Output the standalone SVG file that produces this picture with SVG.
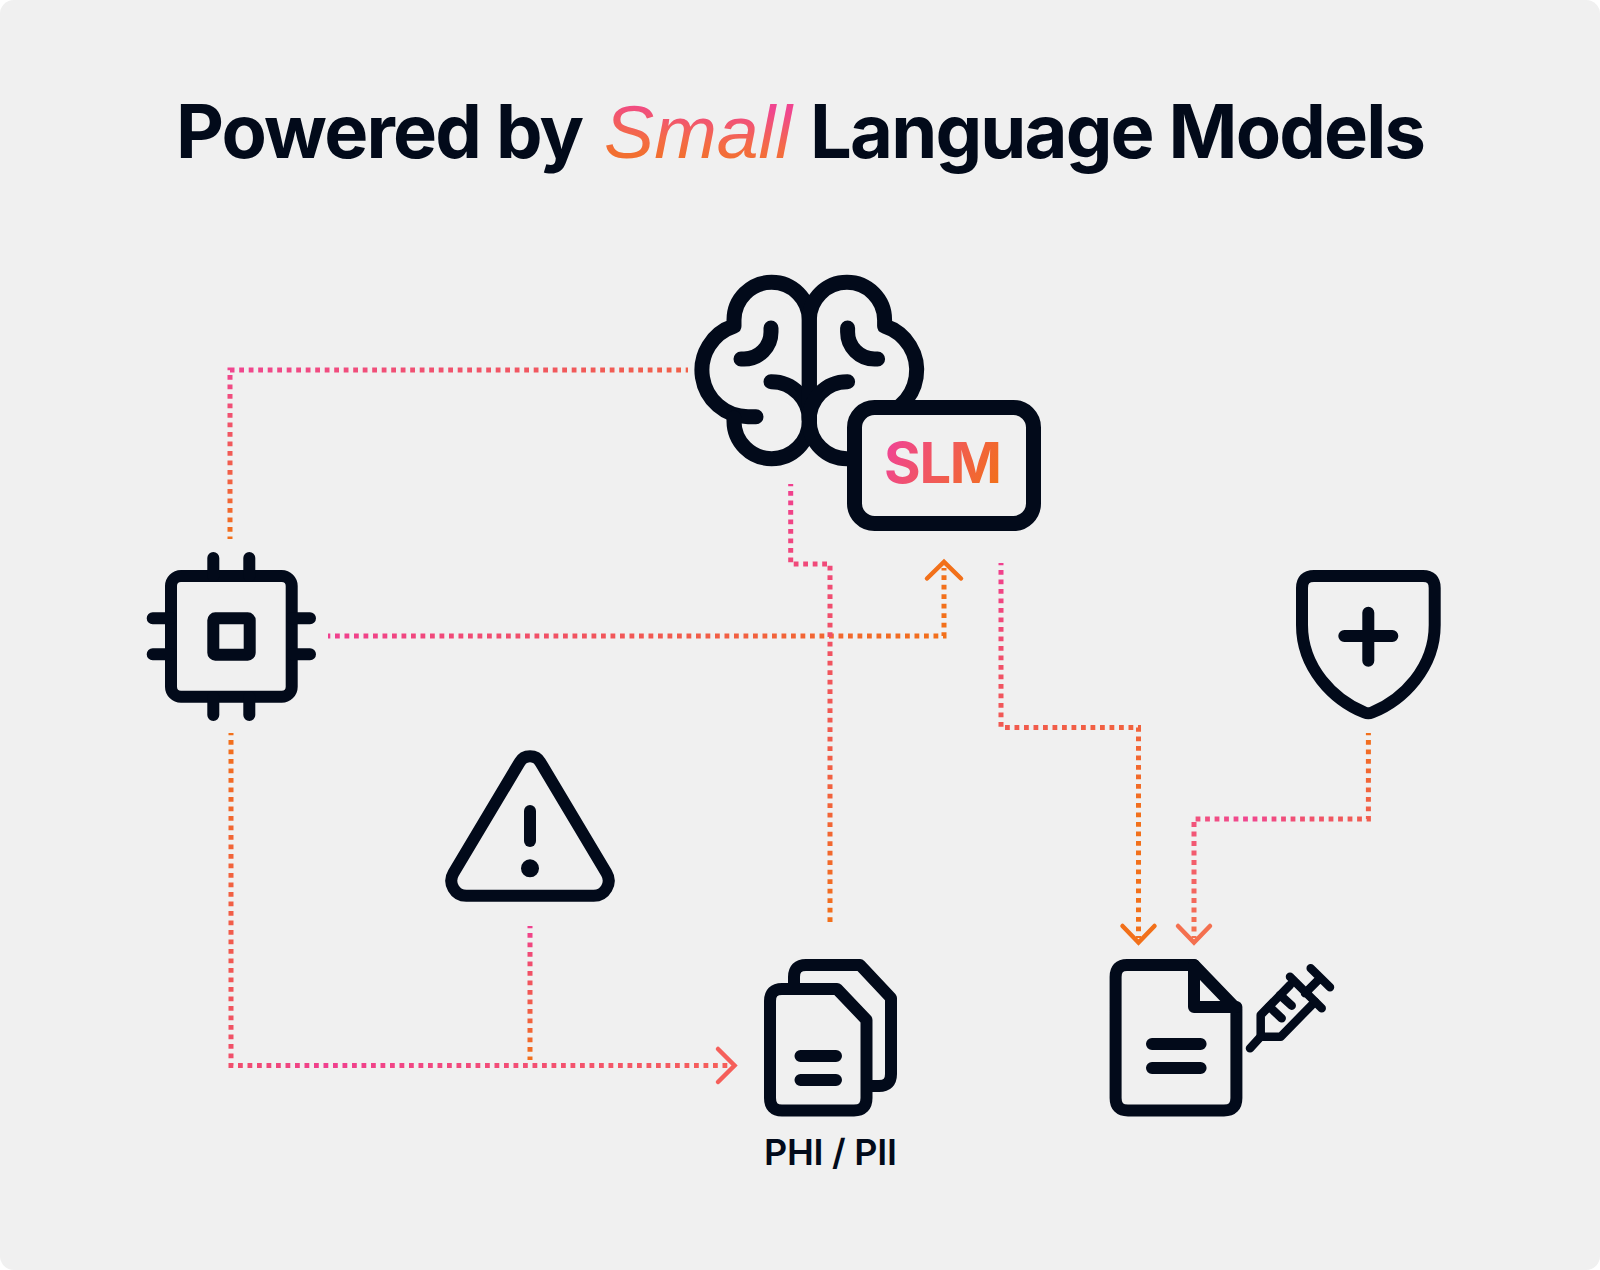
<svg xmlns="http://www.w3.org/2000/svg" width="1600" height="1270" viewBox="0 0 1600 1270">
<style>
.ink{fill:none;stroke:#020a1a;stroke-width:12;stroke-linecap:round;stroke-linejoin:round}
.thick{stroke-width:15}
.thin{stroke-width:8.500}
.dot{fill:none;stroke-width:5;stroke-dasharray:4.800 4.700;stroke-dashoffset:2.500}
.chev{fill:none;stroke-width:4.500;stroke-linecap:round;stroke-linejoin:miter}
.t{font-family:"Inter","Liberation Sans",Arial,sans-serif;font-weight:700;fill:#020a1a}
</style>
<defs>
<linearGradient id="gSmall" gradientUnits="userSpaceOnUse" x1="700" y1="105" x2="696" y2="158"><stop offset="0" stop-color="#f0468f"/><stop offset="0.7" stop-color="#f46b45"/><stop offset="1" stop-color="#f26f30"/></linearGradient>
<linearGradient id="gSlm" gradientUnits="userSpaceOnUse" x1="895" y1="440" x2="995" y2="490"><stop offset="0" stop-color="#f0468f"/><stop offset="1" stop-color="#f2701a"/></linearGradient>
<linearGradient id="c1" gradientUnits="userSpaceOnUse" x1="230" y1="370" x2="266" y2="531"><stop offset="0" stop-color="#f0468f"/><stop offset="1" stop-color="#f2701a"/></linearGradient>
<linearGradient id="c2" gradientUnits="userSpaceOnUse" x1="328" y1="636" x2="944" y2="600"><stop offset="0" stop-color="#f0408f"/><stop offset="1" stop-color="#f2701a"/></linearGradient>
<linearGradient id="c3" gradientUnits="userSpaceOnUse" x1="790" y1="484" x2="830" y2="924"><stop offset="0" stop-color="#f0408f"/><stop offset="1" stop-color="#f2701a"/></linearGradient>
<linearGradient id="c4" gradientUnits="userSpaceOnUse" x1="1001" y1="563" x2="1138" y2="920"><stop offset="0" stop-color="#f0408f"/><stop offset="0.75" stop-color="#f2701a"/></linearGradient>
<linearGradient id="c5" gradientUnits="userSpaceOnUse" x1="1368" y1="733" x2="1193" y2="930"><stop offset="0" stop-color="#f2701a"/><stop offset="0.55" stop-color="#f0468f"/><stop offset="1" stop-color="#f4704f"/></linearGradient>
<linearGradient id="c6" gradientUnits="userSpaceOnUse" x1="231" y1="733" x2="720" y2="1065"><stop offset="0" stop-color="#f2701a"/><stop offset="0.45" stop-color="#f0408f"/><stop offset="1" stop-color="#f55f5a"/></linearGradient>
<linearGradient id="c7" gradientUnits="userSpaceOnUse" x1="530" y1="926" x2="530" y2="1060"><stop offset="0" stop-color="#f0408f"/><stop offset="1" stop-color="#f2701a"/></linearGradient>
</defs>
<rect width="1600" height="1270" fill="#ffffff"/>
<rect width="1600" height="1270" rx="14" fill="#f0f0f0"/>

<g id="title">
<text class="t" x="176" y="157.500" font-size="74" textLength="408" lengthAdjust="spacing">Powered by</text>
<text x="604" y="157.500" font-size="75" font-family="Liberation Sans,Arial,sans-serif" font-style="italic" fill="url(#gSmall)" textLength="188" lengthAdjust="spacingAndGlyphs">Small</text>
<text class="t" x="810" y="157.500" font-size="74" textLength="616" lengthAdjust="spacing">Language Models</text>
</g>

<g id="connectors">
<path class="dot" stroke="url(#c1)" d="M688 370H230V539"/>
<path class="dot" stroke="url(#c2)" d="M328 636H944V568"/>
<path class="chev" stroke="#f2701a" d="M927 578.500L944 562L961 578.500"/>
<path class="dot" stroke="url(#c3)" d="M790.700 484V564H830V925"/>
<path class="dot" stroke="url(#c4)" d="M1001 563V727.500H1138.500V938"/>
<path class="chev" stroke="#f2701a" d="M1122.500 926L1138.500 942.500L1154.500 926"/>
<path class="dot" stroke="url(#c5)" d="M1368.400 733V819H1194V938"/>
<path class="chev" stroke="#f4704f" d="M1178 926L1194 942.500L1210 926"/>
<path class="dot" stroke="url(#c6)" d="M231 733V1065.500H730"/>
<path class="chev" stroke="#f55f5a" d="M718 1049L734.500 1065.500L718 1082"/>
<path class="dot" stroke="url(#c7)" d="M530 926V1060"/>
</g>

<g id="brain-slm">
<g class="ink thick">
<path d="M809.300 420V320A37.500 37.500 0 0 0 734 320V326A46.500 46.500 0 0 0 748 416.700H756"/>
<path d="M734 418V421A37.500 37.500 0 0 0 809.300 421A38 38 0 0 0 771 381.700"/>
<path d="M771 328V332A27 27 0 0 1 744 359H741"/>
<path d="M809.300 420V320A37.500 37.500 0 0 1 884.600 320V326A46.500 46.500 0 0 1 870.600 416.700H862"/>
<path d="M884.600 418V421A37.500 37.500 0 0 1 809.300 421A38 38 0 0 1 847.600 381.700"/>
<path d="M847.600 328V332A27 27 0 0 0 874.600 359H877.600"/>
<rect x="854.500" y="407.500" width="179" height="116" rx="20" fill="#f0f0f0"/>
</g>
<text class="t" x="884" y="482.500" font-size="56" style="fill:url(#gSlm)" textLength="118" lengthAdjust="spacing">SLM</text>
</g>

<g id="chip" class="ink">
<rect x="171" y="576" width="120.700" height="120.700" rx="10"/>
<rect x="213.300" y="618.300" width="36.400" height="36.400" rx="2"/>
<path d="M213.300 558V576M249.300 558V576M213.300 697V715M249.300 697V715M152.700 618.300H171M152.700 654.300H171M292 618.300H310M292 654.300H310"/>
</g>

<g id="shield" class="ink">
<path d="M1314 576H1423Q1434.700 576 1434.700 588V625C1434.700 668 1403 700 1372 712.500Q1368.300 714 1364.600 712.500C1333.600 700 1302 668 1302 625V588Q1302 576 1314 576Z"/>
<path d="M1344.300 636H1392.300M1368.300 612.700V660.700"/>
</g>

<g id="warning" class="ink">
<path d="M519.500 762.500A12 12 0 0 1 540.500 762.500L606.500 873A15 15 0 0 1 593.500 895.700H466.500A15 15 0 0 1 453.500 873Z"/>
<path d="M530 811V841"/>
<circle cx="530" cy="868.300" r="9" fill="#020a1a" stroke="none"/>
</g>

<g id="phi-docs" class="ink">
<path d="M794 986V977Q794 965 806 965H860L891 998V1074Q891 1086 879 1086H868"/>
<path d="M782 989H837L866.500 1020V1098Q866.500 1110.500 854 1110.500H782Q770 1110.500 770 1098V1001Q770 989 782 989Z"/>
<path d="M800.500 1056H836M800.500 1080H836"/>
<text class="t" x="764" y="1164.500" font-size="36" stroke="none" style="font-weight:600;stroke:none" textLength="133" lengthAdjust="spacing">PHI / PII</text>
</g>

<g id="record" class="ink">
<path d="M1127 965H1194L1236.400 1009V1098Q1236.400 1110.500 1224 1110.500H1128Q1115.600 1110.500 1115.600 1098V977Q1115.600 965 1127 965Z"/>
<path d="M1194 965V1007H1236.400"/>
<path d="M1152 1044H1200.600M1152 1068H1200.600"/>
</g>

<g id="syringe" class="ink thin">
<path d="M1290 985L1260.700 1015V1036.700H1280.700L1315 1001.700"/>
<path d="M1290 976.700L1321.700 1008.300M1305 993.300L1320 978.300M1310.700 968.300L1330 987.300M1260.700 1036.700L1250 1048.300M1269.300 1006.700L1281.700 1018.300M1280 995L1291.700 1005.700"/>
</g>
</svg>
